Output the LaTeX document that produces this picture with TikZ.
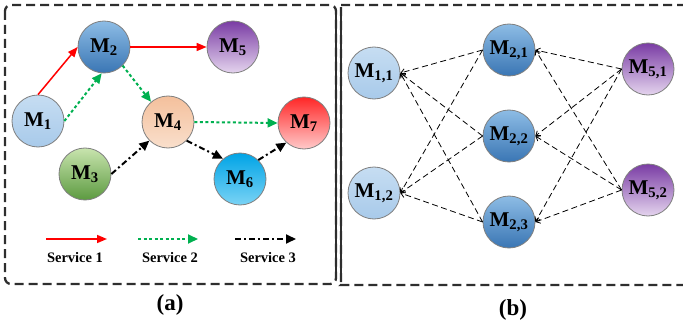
\documentclass[tikz,border=0pt]{standalone}
\usepackage{fontspec}
\setmainfont{Liberation Serif}
\usetikzlibrary{arrows.meta}
\definecolor{bordc}{HTML}{7F7F7F}
\definecolor{boxc}{HTML}{2E2E2E}
\definecolor{sred}{HTML}{FF0000}
\definecolor{sgreen}{HTML}{00B050}
\definecolor{c1t}{HTML}{C6DDF2}\definecolor{c1b}{HTML}{A8CAEA}
\definecolor{c2t}{HTML}{8DBCE5}\definecolor{c2b}{HTML}{3A76B4}
\definecolor{c3t}{HTML}{C8E4AE}\definecolor{c3b}{HTML}{5C9A40}
\definecolor{c4t}{HTML}{F4C09C}\definecolor{c4b}{HTML}{F9DFCC}
\definecolor{c5t}{HTML}{7A3CA4}\definecolor{c5b}{HTML}{E4D4EE}
\definecolor{c6t}{HTML}{00A4E6}\definecolor{c6b}{HTML}{7AD3F5}
\definecolor{c7t}{HTML}{FF2626}\definecolor{c7b}{HTML}{FFCACA}
\tikzset{
  mnode/.style={circle, draw=bordc, line width=0.8pt, minimum size=52pt, inner sep=0pt,
    font=\fontsize{21}{21}\selectfont\bfseries},
  panelbox/.style={draw=boxc, line width=2.3pt, dash pattern=on 9pt off 5pt, rounded corners=6pt},
  s1/.style={draw=sred, line width=1.5pt, -{Triangle[length=10pt,width=8pt]}},
  s2/.style={draw=sgreen, line width=2pt, dash pattern=on 3pt off 2.5pt, -{Triangle[length=10pt,width=9pt,fill=sgreen]}},
  s3/.style={draw=black, line width=2pt, dash pattern=on 6pt off 3pt on 2pt off 3pt, -{Triangle[length=10pt,width=9pt]}},
  link/.style={draw=black, line width=0.8pt, dash pattern=on 6pt off 3.5pt, -{Straight Barb[length=4pt,width=6pt]}},
  legtext/.style={font=\fontsize{14.5}{14.5}\selectfont\bfseries},
  captext/.style={font=\fontsize{23}{23}\selectfont\bfseries},
  n1/.style={mnode, top color=c1t, bottom color=c1b},
  n2/.style={mnode, top color=c2t, bottom color=c2b},
  n3/.style={mnode, top color=c3t, bottom color=c3b},
  n4/.style={mnode, top color=c4t, bottom color=c4b},
  n5/.style={mnode, top color=c5t, bottom color=c5b},
  n6/.style={mnode, top color=c6t, bottom color=c6b},
  n7/.style={mnode, top color=c7t, bottom color=c7b}
}
\begin{document}
\begin{tikzpicture}[x=1pt,y=-1pt]
\useasboundingbox (0,0) rectangle (683,329);
% panel boxes
\draw[panelbox] (5,5) rectangle (336,284);
\draw[boxc, line width=2.3pt] (336,11) -- (336,278);
\draw[panelbox] (700,5) -- (347,5) arc[start angle=90,end angle=180,radius=6pt] -- (341,279) arc[start angle=180,end angle=270,radius=6pt] -- (700,285);
\draw[boxc, line width=2.3pt] (341,11) -- (341,279);
% (a) nodes
\node[n1] (m1) at (38,121) {M\textsubscript{1}};
\node[n2] (m2) at (104,47) {M\textsubscript{2}};
\node[n3] (m3) at (85,174) {M\textsubscript{3}};
\node[n4] (m4) at (168,122) {M\textsubscript{4}};
\node[n5] (m5) at (233,47) {M\textsubscript{5}};
\node[n6] (m6) at (240,179) {M\textsubscript{6}};
\node[n7] (m7) at (304,123) {M\textsubscript{7}};
% (a) edges
\draw[s1] (m1.north) -- (m2.west);
\draw[s1] (m2.east) -- (m5.west);
\draw[s2] (m1.east) -- (m2.265);
\draw[s2] (m2.-45) -- (m4.130);
\draw[s2] (m4.east) -- (m7.west);
\draw[s3] (m3.east) -- (m4.225);
\draw[s3] (m4.-45) -- (m6.130);
\draw[s3] (m6.46) -- (m7.228);
% legend
\coordinate (l1a) at (46,239); \coordinate (l1b) at (107,239);
\coordinate (l2a) at (138,239); \coordinate (l2b) at (198,239);
\coordinate (l3a) at (235,239); \coordinate (l3b) at (296,239);
\draw[s1] (l1a) -- (l1b);
\draw[s2] (l2a) -- (l2b);
\draw[s3] (l3a) -- (l3b);
\node[legtext] (t1) at (75,258) {Service 1};
\node[legtext] (t2) at (170,258) {Service 2};
\node[legtext] (t3) at (268,258) {Service 3};
\node[captext] (capa) at (170,305) {(a)};
% (b) nodes
\node[n1] (m11) at (374,73) {M\textsubscript{1,1}};
\node[n1] (m12) at (374,193) {M\textsubscript{1,2}};
\node[n2] (m21) at (509,50) {M\textsubscript{2,1}};
\node[n2] (m22) at (509,136) {M\textsubscript{2,2}};
\node[n2] (m23) at (509,222) {M\textsubscript{2,3}};
\node[n5] (m51) at (648,69) {M\textsubscript{5,1}};
\node[n5] (m52) at (648,190) {M\textsubscript{5,2}};
% (b) edges
\foreach \a in {m21,m22,m23}{
  \foreach \b in {m11,m12}{ \draw[link] (\a.west) -- (\b.east); }
  \foreach \c in {m51,m52}{ \draw[link] (\c.west) -- (\a.east); }
}
\node[captext] (capb) at (513,310) {(b)};
\end{tikzpicture}
\end{document}
